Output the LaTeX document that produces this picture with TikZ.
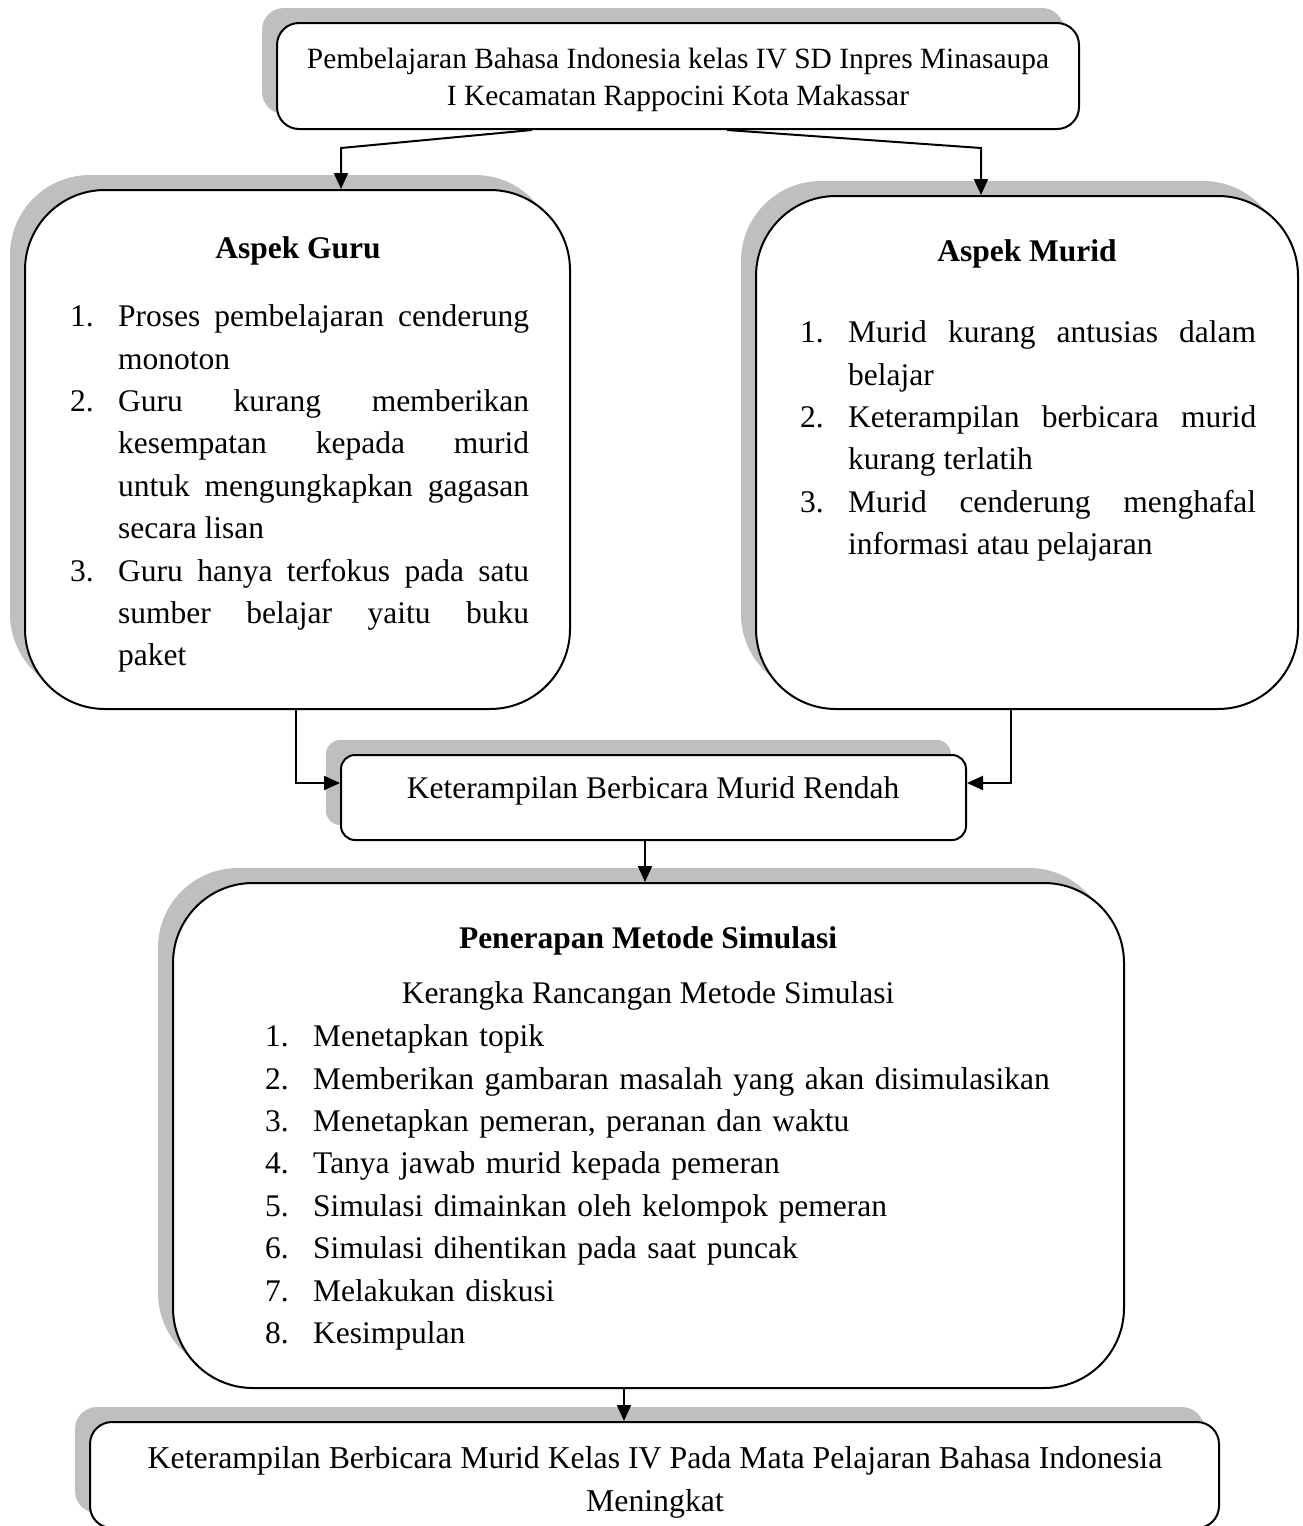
\documentclass[tikz,border=0pt]{standalone}
\usepackage{fontspec}
\setmainfont{Liberation Serif}
\usetikzlibrary{arrows.meta}
\usetikzlibrary{shadows}
\definecolor{shadegray}{HTML}{BFBFBF}
\tikzset{>={Triangle[length=16pt,width=14pt]}}
\tikzset{
  framebox/.style={draw, line width=2pt, fill=white, inner sep=0pt, rounded corners=#1,
    drop shadow={shadow xshift=-15pt, shadow yshift=15pt, fill=shadegray, opacity=1}},
  framebox/.default=20pt,
  txt/.style={inner sep=0pt, font=\fontsize{31.5}{42.4}\selectfont},
}
\newlength{\itmind}
\newcommand{\itm}[2]{\par\noindent\hangindent=\itmind\hangafter=1\makebox[\itmind][l]{#1}#2}

\begin{document}
\begin{tikzpicture}[x=1pt, y=-1pt, line join=miter]

\useasboundingbox (0,0) rectangle (1302,1526);
\clip (0,0) rectangle (1302,1526);

\node[framebox=22pt, minimum width=802pt, minimum height=106pt] (top) at (678,76) {};
\node[framebox=80pt, minimum width=545pt, minimum height=519pt] (guru) at (297.5,449.5) {};
\node[framebox=80pt, minimum width=542pt, minimum height=513pt] (murid) at (1027,452.5) {};
\node[framebox=14pt, minimum width=625pt, minimum height=85pt] (K) at (653.5,797.5) {};
\node[framebox=80pt, minimum width=951pt, minimum height=505pt] (sim) at (648.5,1135.5) {};
\node[framebox=22pt, minimum width=1129pt, minimum height=106pt] (bot) at (654.5,1475) {};

\node[txt, align=center, font=\fontsize{29.4}{37}\selectfont] (toptext) at (678,79.5)
  {Pembelajaran Bahasa Indonesia kelas IV SD Inpres Minasaupa\\ I Kecamatan Rappocini Kota Makassar};

\node[txt, font=\fontsize{31.5}{42.4}\selectfont\bfseries] (gurutitle) at (298,251) {Aspek Guru};
\node[txt, anchor=north west, text width=459pt, align=justify] (gurulist) at (70,284)
  {\setlength{\itmind}{48pt}\tolerance=10000
  \itm{1.}{Proses pembelajaran cenderung\linebreak monoton}
  \itm{2.}{Guru kurang memberikan\linebreak kesempatan kepada murid\linebreak untuk mengungkapkan gagasan\linebreak secara lisan}
  \itm{3.}{Guru hanya terfokus pada satu\linebreak sumber belajar yaitu buku\linebreak paket}\par};

\node[txt, font=\fontsize{31.5}{42.4}\selectfont\bfseries] (muridtitle) at (1027,254) {Aspek Murid};
\node[txt, anchor=north west, text width=456pt, align=justify] (muridlist) at (800,300)
  {\setlength{\itmind}{48pt}\tolerance=10000
  \itm{1.}{Murid kurang antusias dalam\linebreak belajar}
  \itm{2.}{Keterampilan berbicara murid\linebreak kurang terlatih}
  \itm{3.}{Murid cenderung menghafal\linebreak informasi atau pelajaran}\par};

\node[txt] (Ktext) at (653,791) {Keterampilan Berbicara Murid Rendah};

\node[txt, font=\fontsize{31.5}{42.4}\selectfont\bfseries] (simtitle) at (648,941) {Penerapan Metode Simulasi};
\node[txt] (simsub) at (648,996) {Kerangka Rancangan Metode Simulasi};
\node[txt, anchor=north west, text width=820pt, align=left] (simlist) at (265,1004)
  {\setlength{\itmind}{48pt}
  \itm{1.}{Menetapkan topik}
  \itm{2.}{Memberikan gambaran masalah yang akan disimulasikan}
  \itm{3.}{Menetapkan pemeran, peranan dan waktu}
  \itm{4.}{Tanya jawab murid kepada pemeran}
  \itm{5.}{Simulasi dimainkan oleh kelompok pemeran}
  \itm{6.}{Simulasi dihentikan pada saat puncak}
  \itm{7.}{Melakukan diskusi}
  \itm{8.}{Kesimpulan}\par};

\node[txt, align=center, font=\fontsize{31.8}{43}\selectfont] (bottext) at (655,1482)
  {Keterampilan Berbicara Murid Kelas IV Pada Mata Pelajaran Bahasa Indonesia\\ Meningkat};

\coordinate (tl) at (341,148);
\coordinate (tr) at (981,148);
\coordinate (gk) at (296,783);
\coordinate (mk) at (1011,783);
\coordinate (ks) at (645,860);
\coordinate (sb) at (624,1400);

\draw[->, line width=2pt] ([xshift=-146pt]top.south) -- (tl) -- (tl |- guru.north);
\draw[->, line width=2pt] ([xshift=49pt]top.south) -- (tr) -- (tr |- murid.north);
\draw[->, line width=2pt] (gk |- guru.south) -- (gk) -- (gk -| K.west);
\draw[->, line width=2pt] (mk |- murid.south) -- (mk) -- (mk -| K.east);
\draw[->, line width=2pt] (ks |- K.south) -- (ks |- sim.north);
\draw[->, line width=2pt] (sb |- sim.south) -- (sb |- bot.north);

\end{tikzpicture}
\end{document}
